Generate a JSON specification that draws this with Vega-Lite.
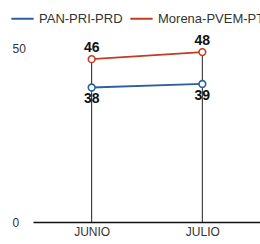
{
  "$schema": "https://vega.github.io/schema/vega-lite/v6.json",
  "autosize": {"type": "none"},
  "width": 228,
  "height": 177,
  "padding": {"left": 33, "top": 45, "right": 0, "bottom": 22},
  "background": "white",
  "config": {"view": {"stroke": null}, "font": "Liberation Sans"},
  "data": {"values": [
    {"mes": "JUNIO", "coalicion": "PAN-PRI-PRD", "valor": 38},
    {"mes": "JULIO", "coalicion": "PAN-PRI-PRD", "valor": 39},
    {"mes": "JUNIO", "coalicion": "Morena-PVEM-PT", "valor": 46},
    {"mes": "JULIO", "coalicion": "Morena-PVEM-PT", "valor": 48}
  ]},
  "encoding": {
    "x": {"field": "mes", "type": "nominal", "sort": ["JUNIO", "JULIO"],
      "scale": {"type": "point", "padding": 0.53},
      "axis": {"title": null, "ticks": false, "labelAngle": 0, "labelFontSize": 12, "labelColor": "#333", "labelPadding": 4, "domainColor": "#111", "domainWidth": 1.6, "labelFont": "Liberation Sans"}},
    "y": {"field": "valor", "type": "quantitative",
      "scale": {"domain": [0, 50], "nice": false},
      "axis": {"title": null, "values": [0, 50], "ticks": false, "tickSize": 0, "domain": false, "grid": false, "labelAlign": "left", "labelPadding": 21, "labelFontSize": 12, "labelColor": "#333",
        "labelOffset": {"condition": {"test": "datum.value == 50", "value": 3}, "value": 0}}}
  },
  "layer": [
    {
      "transform": [{"aggregate": [{"op": "max", "field": "valor", "as": "top"}], "groupby": ["mes"]}],
      "mark": {"type": "rule", "color": "#222", "strokeWidth": 1},
      "encoding": {"y": {"field": "top", "type": "quantitative"}, "y2": {"datum": 0}}
    },
    {
      "mark": {"type": "line", "strokeWidth": 1.8},
      "encoding": {
        "color": {"field": "coalicion", "type": "nominal",
          "scale": {"domain": ["PAN-PRI-PRD", "Morena-PVEM-PT"], "range": ["#2d5f9e", "#c23b22"]},
          "legend": {"title": null, "orient": "none", "direction": "horizontal", "legendX": -23, "legendY": -39, "symbolType": "stroke", "symbolSize": 500, "symbolStrokeWidth": 2, "labelFontSize": 13, "labelColor": "#333", "columnPadding": 3, "labelOffset": 4}}
      }
    },
    {
      "mark": {"type": "point", "filled": true, "fill": "white", "size": 45, "strokeWidth": 1.6, "opacity": 1},
      "encoding": {"stroke": {"field": "coalicion", "type": "nominal", "scale": {"domain": ["PAN-PRI-PRD", "Morena-PVEM-PT"], "range": ["#2d5f9e", "#c23b22"]}, "legend": null}}
    },
    {
      "transform": [{"filter": "datum.coalicion == 'Morena-PVEM-PT'"}],
      "mark": {"type": "text", "dy": -11, "fontSize": 14, "fontWeight": "bold", "color": "#111"},
      "encoding": {"text": {"field": "valor", "type": "quantitative"}}
    },
    {
      "transform": [{"filter": "datum.coalicion == 'PAN-PRI-PRD'"}],
      "mark": {"type": "text", "dy": 12, "fontSize": 14, "fontWeight": "bold", "color": "#111"},
      "encoding": {"text": {"field": "valor", "type": "quantitative"}}
    }
  ]
}
